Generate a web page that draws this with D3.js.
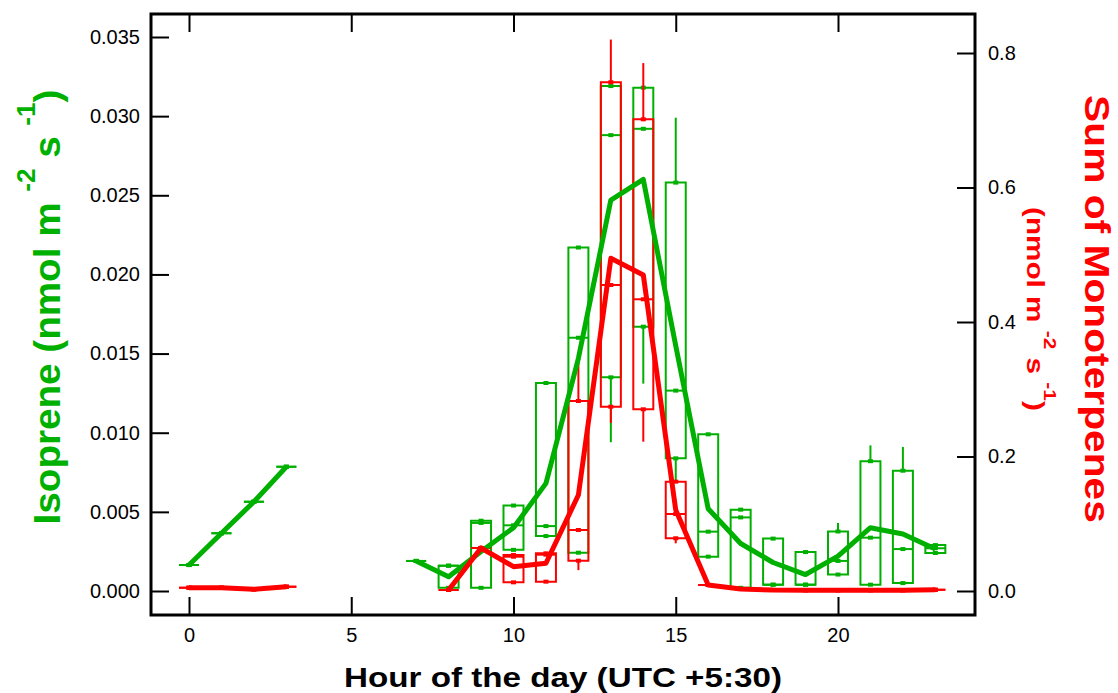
<!DOCTYPE html>
<html><head><meta charset="utf-8">
<script src="https://cdn.jsdelivr.net/npm/d3@7"></script>
<style>
body{margin:0;background:#fff}
svg{display:block}
text{font-family:"Liberation Sans",Arial,Helvetica,sans-serif}
</style>
</head><body>
<svg id="chart" width="1118" height="693"></svg>
<script>
// ---------- data ----------
const hours = d3.range(24);
// Isoprene (left axis)
const isoMean = [0.00164,0.00365,0.00564,0.00785,null,null,null,0.0019,0.0009,0.0025,0.0040,0.0068,0.0147,0.0247,0.0260,0.0155,0.0052,0.0030,0.0018,0.00104,0.0022,0.0040,0.0036,0.00265];
const isoQ3   = [0.00164,0.00365,0.00564,0.00785,null,null,null,0.0019,0.0016,0.00444,0.0054,0.01314,0.0217,0.0319,0.0318,0.0258,0.0099,0.00514,0.00331,0.00246,0.00376,0.0082,0.0076,0.0029];
const isoMed  = [0.00164,0.00365,0.00564,0.00785,null,null,null,0.0019,0.0016,0.0043,0.00415,0.0041,0.0160,0.0288,0.0292,0.01266,0.00375,0.00465,0.0004,0.0004,0.0019,0.00337,0.00265,0.0027];
const isoQ1   = [0.00164,0.00365,0.00564,0.00785,null,null,null,0.0019,0.0002,0.0002,0.0026,0.00347,0.00242,0.0135,0.0167,0.00838,0.00217,0.0002,0.0004,0.0004,0.00104,0.0004,0.0005,0.0024];
const isoMin  = [null,null,null,null,null,null,null,null,null,null,null,null,null,0.0094,0.0131,0.0070,null,null,null,null,null,null,null,null];
const isoMax  = [null,null,null,null,null,null,null,null,null,null,null,null,null,null,null,0.0299,null,null,null,null,0.0043,0.0092,0.0091,null];
// Sum of monoterpenes (right axis)
const monoMean = [0.0049,0.0049,0.0025,0.0064,null,null,null,null,0.0015,0.064,0.0362,0.0412,0.1428,0.4947,0.470,0.1204,0.0089,0.003,0.0015,0.0012,0.0012,0.0012,0.0012,0.0018];
const monoQ3   = [0.0049,0.0049,0.0025,0.0064,null,null,null,null,0.0015,0.064,0.0535,0.056,0.2825,0.7565,0.7014,0.1626,0.0089,0.003,0.0015,0.0012,0.0012,0.0012,0.0012,0.0018];
const monoMed  = [0.0049,0.0049,0.0025,0.0064,null,null,null,null,0.0015,0.064,0.051,0.054,0.0907,0.455,0.4338,0.1145,0.0089,0.003,0.0015,0.0012,0.0012,0.0012,0.0012,0.0018];
const monoQ1   = [0.0049,0.0049,0.0025,0.0064,null,null,null,null,0.0015,0.064,0.0129,0.0139,0.0451,0.274,0.2702,0.0784,0.0089,0.003,0.0015,0.0012,0.0012,0.0012,0.0012,0.0018];
const monoMin  = [null,null,null,null,null,null,null,null,null,null,null,null,0.031,0.250,0.222,0.0709,null,null,null,null,null,null,null,null];
const monoMax  = [null,null,null,null,null,null,null,null,null,null,null,null,0.346,0.820,0.785,null,null,null,null,null,null,null,null,null];
// ticks
const xTicks = [0,5,10,15,20];
const isoTicks = [0,0.005,0.010,0.015,0.020,0.025,0.030,0.035];
const monoTicks = [0,0.2,0.4,0.6,0.8];

// ---------- layout ----------
const L = 151, R = 975, T = 14, B = 615;
const GREEN = "#00b000", RED = "#ff0000";
const svg = d3.select("#chart");

const x  = d3.scaleLinear().domain([-1.171, 24.222]).range([L, R]);
const yL = d3.scaleLinear().domain([-0.001516, 0.036453]).range([B, T]);
const yR = d3.scaleLinear().domain([-0.03569, 0.858]).range([B, T]);

function drawBoxes(q3, med, q1, mn, mx, y, color) {
  const g = svg.append("g");
  const hw = 10;
  hours.forEach((h, i) => {
    if (q3[i] == null) return;
    const cx = x(h), x0 = cx - hw, x1 = cx + hw;
    const yt = y(q3[i]), yb = y(q1[i]), ym = y(med[i]);
    if (mx[i] != null) g.append("line").attr("x1", cx).attr("x2", cx).attr("y1", yt).attr("y2", y(mx[i]))
      .attr("stroke", color).attr("stroke-width", 2);
    if (mn[i] != null) g.append("line").attr("x1", cx).attr("x2", cx).attr("y1", yb).attr("y2", y(mn[i]))
      .attr("stroke", color).attr("stroke-width", 2);
    g.append("path").attr("d", `M${x0},${yt}H${x1}V${yb}H${x0}Z`)
      .attr("fill", "none").attr("stroke", color).attr("stroke-width", 2);
    g.append("path").attr("d", `M${x0},${ym}H${x1}`)
      .attr("fill", "none").attr("stroke", color).attr("stroke-width", 2);
    [yt, ym, yb].forEach(yy => g.append("rect").attr("x", cx - 2.5).attr("y", yy - 2).attr("width", 5).attr("height", 4).attr("fill", color));
  });
}

drawBoxes(isoQ3, isoMed, isoQ1, isoMin, isoMax, yL, GREEN);
drawBoxes(monoQ3, monoMed, monoQ1, monoMin, monoMax, yR, RED);

const lineIso = d3.line().defined(d => d != null).x((d, i) => x(hours[i])).y(d => yL(d));
const lineMono = d3.line().defined(d => d != null).x((d, i) => x(hours[i])).y(d => yR(d));
svg.append("path").attr("d", lineIso(isoMean)).attr("fill", "none").attr("stroke", GREEN)
  .attr("stroke-width", 5).attr("stroke-linejoin", "round");
svg.append("path").attr("d", lineMono(monoMean)).attr("fill", "none").attr("stroke", RED)
  .attr("stroke-width", 5).attr("stroke-linejoin", "round");

// ---------- axes ----------
const TS = 18;
function styleAxis(g) {
  g.select(".domain").remove();
  g.selectAll(".tick line").attr("stroke", "#000").attr("stroke-width", 2);
  g.selectAll(".tick text").attr("fill", "#000").style("font-size", "20px")
    .style("font-family", '"Liberation Sans",Arial,sans-serif');
}
svg.append("g").attr("transform", `translate(${L},0)`)
  .call(d3.axisLeft(yL).tickValues(isoTicks).tickFormat(d3.format(".3f")).tickSize(-TS).tickPadding(11)).call(styleAxis);
svg.append("g").attr("transform", `translate(${R},0)`)
  .call(d3.axisRight(yR).tickValues(monoTicks).tickFormat(d3.format(".1f")).tickSize(-TS).tickPadding(13)).call(styleAxis);
svg.append("g").attr("transform", `translate(0,${B})`)
  .call(d3.axisBottom(x).tickValues(xTicks).tickFormat(d3.format("d")).tickSize(-TS).tickPadding(13)).call(styleAxis);
svg.append("g").attr("transform", `translate(0,${T})`)
  .call(d3.axisTop(x).tickValues(xTicks).tickFormat("").tickSize(-TS)).call(styleAxis);

svg.append("rect").attr("x", L).attr("y", T).attr("width", R - L).attr("height", B - T)
  .attr("fill", "none").attr("stroke", "#000").attr("stroke-width", 3);

// ---------- titles ----------
function fitText(sel, target) {
  const w = sel.node().getBBox().width;
  sel.attr("transform", `scale(${target / w},1)`);
}
// bottom
{
  const g = svg.append("g").attr("transform", "translate(563,687)");
  const t = g.append("text").attr("text-anchor", "middle").attr("font-weight", "bold")
    .attr("font-size", 27).attr("fill", "#000").text("Hour of the day (UTC +5:30)");
  fitText(t, 438);
}
// left
{
  const g = svg.append("g").attr("transform", "translate(60,307) rotate(-90)");
  const t = g.append("text").attr("text-anchor", "middle").attr("font-weight", "bold")
    .attr("font-size", 37).attr("fill", GREEN);
  t.append("tspan").text("Isoprene (nmol m ");
  t.append("tspan").attr("font-size", 25).attr("dy", -25).text("-2");
  t.append("tspan").attr("dy", 25).text(" s ");
  t.append("tspan").attr("font-size", 25).attr("dy", -25).text("-1");
  t.append("tspan").attr("dy", 25).text(")");
  fitText(t, 435);
}
// right main
{
  const g = svg.append("g").attr("transform", "translate(1085,309) rotate(90)");
  const t = g.append("text").attr("text-anchor", "middle").attr("font-weight", "bold")
    .attr("font-size", 35).attr("fill", RED).text("Sum of Monoterpenes");
  fitText(t, 428);
}
// right sub
{
  const g = svg.append("g").attr("transform", "translate(1027,309) rotate(90)");
  const t = g.append("text").attr("text-anchor", "middle").attr("font-weight", "bold")
    .attr("font-size", 24).attr("fill", RED);
  t.append("tspan").text("(nmol m ");
  t.append("tspan").attr("font-size", 17).attr("dy", -17).text("-2");
  t.append("tspan").attr("dy", 17).text(" s ");
  t.append("tspan").attr("font-size", 17).attr("dy", -17).text("-1");
  t.append("tspan").attr("dy", 17).text(")");
  fitText(t, 204);
}
</script>
</body></html>
